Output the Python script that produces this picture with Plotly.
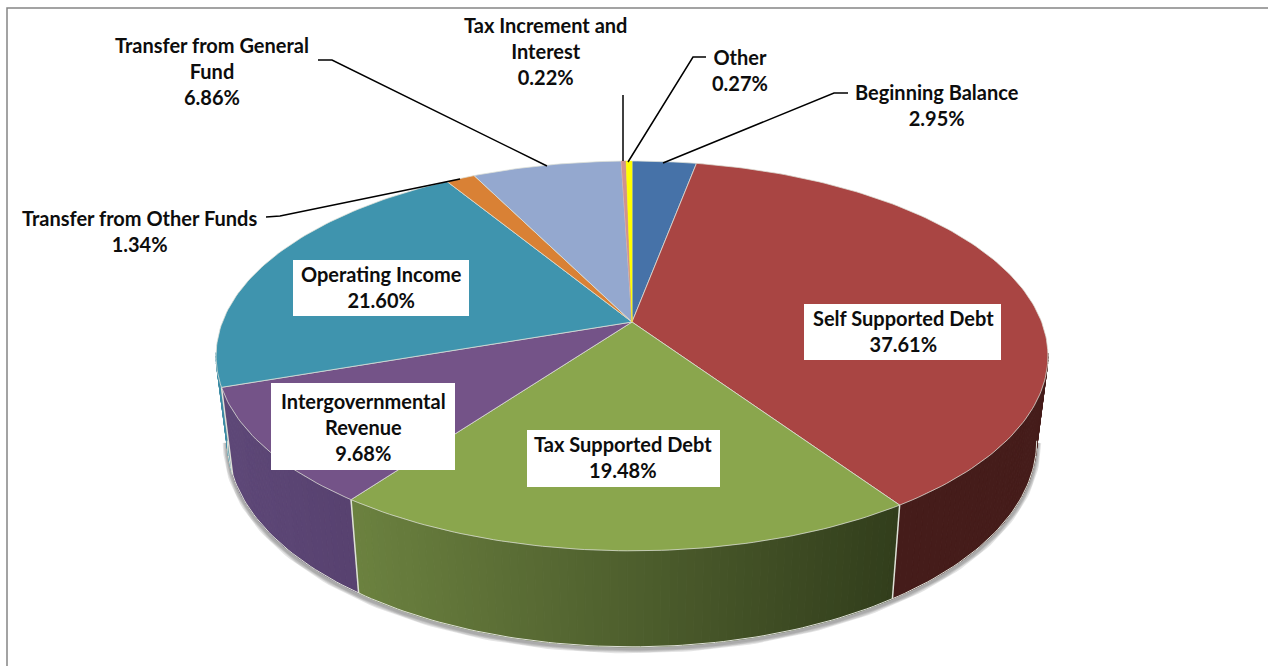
"""Revenue sources shown as a tilted 3D pie, built from filled Plotly scatter traces."""

import math
import plotly.graph_objects as go

# Chart data
CATEGORIES = [
    "Beginning Balance", "Self Supported Debt", "Tax Supported Debt",
    "Intergovernmental Revenue", "Operating Income", "Transfer from Other Funds",
    "Transfer from General Fund", "Tax Increment and Interest", "Other",
]
PERCENTS = [2.95, 37.61, 19.48, 9.68, 21.60, 1.34, 6.86, 0.22, 0.27]
LABEL_NAMES = [
    "Beginning Balance", "Self Supported Debt", "Tax Supported Debt",
    "Intergovernmental<br>Revenue", "Operating Income", "Transfer from Other Funds",
    "Transfer from General<br>Fund", "Tax Increment and<br>Interest", "Other",
]

# Styling, in the same order as the categories
TOP_COLORS = ["#4672a8", "#a94543", "#8aa64d", "#745388", "#3f94ae",
              "#d98135", "#94a8cf", "#d0938f", "#ffff00"]
WALL_LEFT = [(40, 65, 100), (69, 28, 26), (108, 130, 64), (94, 72, 120), (60, 140, 165),
             (150, 90, 40), (90, 105, 130), (120, 80, 80), (150, 150, 0)]
WALL_RIGHT = [(40, 65, 100), (69, 28, 26), (50, 62, 28), (88, 66, 112), (60, 140, 165),
              (150, 90, 40), (90, 105, 130), (120, 80, 80), (150, 150, 0)]
LABEL_CENTERS = [(937, 105), (903, 331), (623, 457), (363, 427), (381, 287),
                 (139, 231), (212, 71), (545, 51), (740, 70)]
LABEL_BOXES = {1: (804, 304, 1001, 360), 2: (527, 430, 720, 487),
               3: (271, 383, 455, 470), 4: (293, 260, 469, 316)}
LEADERS = {
    0: ([663, 834, 848], [163, 93, 93]),
    5: ([460, 280, 266], [179, 216, 217]),
    6: ([547, 332, 318], [166, 60, 60]),
    7: ([623, 623], [161, 95]),
    8: ([628, 693, 706], [162, 57, 57]),
}

# Perspective of the pie
CENTER_X, CENTER_Y = 632, 322
SCALE_X, SCALE_Y, PERSPECTIVE = 409.6, 189.0, 0.174
BOTTOM_SCALE = 0.973
EDGE_COLOR = "#dfe1d8"
FONT = dict(family="Lato", size=20, color="#0d0d0d", weight="bold")


def rim_point(theta):
    """Project a rim angle (radians, clockwise from the back) onto the page."""
    depth = 1 + PERSPECTIVE * math.cos(theta)
    return (CENTER_X + SCALE_X * math.sin(theta) / depth,
            CENTER_Y - SCALE_Y * math.cos(theta) / depth)


def bottom_point(theta):
    """Same rim angle on the lower face of the pie."""
    x, y = rim_point(theta)
    return (CENTER_X + (x - CENTER_X) * BOTTOM_SCALE,
            y + 82.6 - 13.4 * math.cos(theta))


def angle_steps(start, end, step=math.radians(1.0)):
    count = max(1, math.ceil((end - start) / step))
    return [start + (end - start) * i / count for i in range(count + 1)]


def visible(theta):
    return math.cos(theta) < -PERSPECTIVE + 0.01


def mix(left, right, t):
    t = min(1, max(0, t))
    return "rgb(%d,%d,%d)" % tuple(a + (b - a) * t for a, b in zip(left, right))


total = sum(PERCENTS)
edges = [0.0]
for value in PERCENTS:
    edges.append(edges[-1] + value / total * 2 * math.pi)

fig = go.Figure()

# Soft shadow under the lower rim
shadow_angles = [t for t in angle_steps(0, 2 * math.pi) if visible(t)]
for width in (9, 7, 5, 3):
    points = [bottom_point(t) for t in shadow_angles]
    fig.add_trace(go.Scatter(
        x=[p[0] for p in points], y=[p[1] + 2 for p in points], mode="lines",
        line=dict(color="rgba(90,90,90,0.16)", width=width),
        hoverinfo="skip", showlegend=False,
    ))

# Side walls, back to front so the nearest strips win
strips = []
for i in range(len(PERCENTS)):
    angles = angle_steps(edges[i], edges[i + 1])
    x_values = [rim_point(t)[0] for t in angles]
    x_low, x_high = min(x_values), max(x_values)
    for a, b in zip(angles, angles[1:]):
        if visible((a + b) / 2):
            strips.append((math.cos((a + b) / 2), i, a, b, x_low, x_high))
strips.sort(key=lambda s: -s[0])

for _, i, a, b, x_low, x_high in strips:
    p = [rim_point(a), rim_point(b), bottom_point(b), bottom_point(a), rim_point(a)]
    t = (rim_point((a + b) / 2)[0] - x_low) / max(1, x_high - x_low)
    color = mix(WALL_LEFT[i], WALL_RIGHT[i], t)
    fig.add_trace(go.Scatter(
        x=[q[0] for q in p], y=[q[1] for q in p], mode="lines", fill="toself",
        fillcolor=color, line=dict(color=color, width=1),
        hoverinfo="skip", showlegend=False,
    ))

# Light edges on the walls
bottom_line = [bottom_point(t) for t in shadow_angles]
fig.add_trace(go.Scatter(
    x=[p[0] for p in bottom_line], y=[p[1] for p in bottom_line], mode="lines",
    line=dict(color=EDGE_COLOR, width=1), hoverinfo="skip", showlegend=False,
))
for edge in edges:
    if visible(edge):
        top, low = rim_point(edge), bottom_point(edge)
        fig.add_trace(go.Scatter(
            x=[top[0], low[0]], y=[top[1], low[1]], mode="lines",
            line=dict(color=EDGE_COLOR, width=1.5), hoverinfo="skip", showlegend=False,
        ))

# Top face; the two thinnest slices go last with no edge so their colour survives
for i, name in enumerate(CATEGORIES):
    rim = [rim_point(t) for t in angle_steps(edges[i], edges[i + 1])]
    xs = [CENTER_X] + [p[0] for p in rim] + [CENTER_X]
    ys = [CENTER_Y] + [p[1] for p in rim] + [CENTER_Y]
    thin = PERCENTS[i] < 1
    fig.add_trace(go.Scatter(
        x=xs, y=ys, mode="lines", fill="toself", fillcolor=TOP_COLORS[i],
        line=dict(color=TOP_COLORS[i] if thin else EDGE_COLOR, width=0.5 if thin else 0.75),
        name=name, showlegend=False,
        hoveron="fills", text=f"{name}: {PERCENTS[i]:.2f}%", hoverinfo="text",
    ))

# Leader lines
for xs, ys in LEADERS.values():
    fig.add_trace(go.Scatter(
        x=xs, y=ys, mode="lines", line=dict(color="black", width=1.5),
        hoverinfo="skip", showlegend=False,
    ))

# White boxes behind the inner labels, plus the frame of the chart area
shapes = [
    dict(type="rect", xref="x", yref="y", x0=x0, y0=y0, x1=x1, y1=y1,
         fillcolor="white", line=dict(width=0), layer="above")
    for x0, y0, x1, y1 in LABEL_BOXES.values()
]
shapes.append(dict(type="path", xref="x", yref="y", path="M 7 666 L 7 8 L 1268 8",
                   line=dict(color="#858585", width=1.5), layer="above"))

annotations = [
    dict(x=cx, y=cy, xref="x", yref="y", text=f"{label}<br>{value:.2f}%",
         showarrow=False, align="center", xanchor="center", yanchor="middle", font=FONT)
    for label, value, (cx, cy) in zip(LABEL_NAMES, PERCENTS, LABEL_CENTERS)
]

fig.update_layout(
    width=1268, height=666,
    margin=dict(l=0, r=0, t=0, b=0),
    paper_bgcolor="white", plot_bgcolor="white",
    showlegend=False, hovermode="closest",
    xaxis=dict(range=[0, 1268], visible=False, fixedrange=True),
    yaxis=dict(range=[666, 0], visible=False, fixedrange=True),
    shapes=shapes, annotations=annotations,
)

fig.write_html(
    "out.html",
    config=dict(displayModeBar=False),
    post_script="document.body.style.margin='0';document.documentElement.style.overflow='hidden';",
)
